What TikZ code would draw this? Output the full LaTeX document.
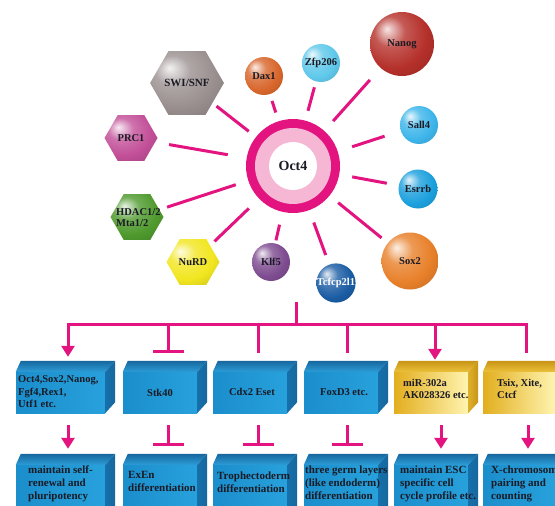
\documentclass[tikz,border=0pt]{standalone}
\usepackage{fontspec}
\setmainfont{Liberation Serif}
\usetikzlibrary{shapes.geometric,arrows.meta,calc}
\definecolor{mag}{HTML}{E3147F}
\definecolor{ringpink}{HTML}{F5B7D4}
\definecolor{nanogc}{HTML}{B5302A}
\definecolor{zfpc}{HTML}{5FC8EA}
\definecolor{daxc}{HTML}{D8662C}
\definecolor{sallc}{HTML}{3DB5EA}
\definecolor{esrrbc}{HTML}{1BA0DD}
\definecolor{soxc}{HTML}{E8802A}
\definecolor{tcfc}{HTML}{1A5CA3}
\definecolor{klfc}{HTML}{7E4C90}
\definecolor{swic}{HTML}{9A8F8F}
\definecolor{prcc}{HTML}{C24F98}
\definecolor{hdacc}{HTML}{4F9A2E}
\definecolor{nurdc}{HTML}{F2E620}
\definecolor{bluefl}{HTML}{1B8ECC}
\definecolor{bluefr}{HTML}{27A1DC}
\definecolor{bluetb}{HTML}{17679E}
\definecolor{bluetf}{HTML}{2C9CD6}
\definecolor{blueside}{HTML}{1670AB}
\definecolor{yelfl}{HTML}{E2AE1E}
\definecolor{yelfr}{HTML}{FFF4B0}
\definecolor{yeltb}{HTML}{C99415}
\definecolor{yeltf}{HTML}{EBC03A}
\definecolor{yelside}{HTML}{DDB02C}
\definecolor{txt}{HTML}{1A1A24}
\colorlet{ballc}{gray}
\pgfdeclareradialshading[ballc]{satball}{\pgfqpoint{-12bp}{12bp}}{%
  color(0bp)=(ballc!12!white);
  color(12bp)=(ballc!80!white);
  color(26bp)=(ballc);
  color(42bp)=(ballc!82!black);
  color(62bp)=(ballc!68!black)}
\newcommand\boxfaces[5]{%
  \shade[top color=#2, bottom color=#3] (#1.north west) -- ++(5,-11) -- ($(#1.north east)+(10,-11)$) -- (#1.north east) -- cycle;
  \shade[left color=#4, right color=#5] (#1.north east) -- ++(10,-11) -- ($(#1.south east)+(10,-11)$) -- (#1.south east) -- cycle;}
\tikzset{
  sat/.style={circle, inner sep=0pt, shading=satball, /utils/exec={\colorlet{ballc}{#1}},
    font=\fontsize{10.5}{11}\selectfont\bfseries, text=txt},
  hexa/.style={regular polygon, regular polygon sides=6, minimum size=53pt, inner sep=0pt,
    shading=satball, /utils/exec={\colorlet{ballc}{#1}},
    font=\fontsize{10.5}{11}\selectfont\bfseries, text=txt},
  spoke/.style={draw=mag, line width=3pt},
  link/.style={draw=mag, line width=3pt},
  arr/.style={-{Triangle[width=13pt,length=11pt]}},
  tbar/.style={-{Bar[width=31pt]}},
  bluebox/.style={rectangle, inner sep=0pt, minimum height=41pt, left color=bluefl, right color=bluefr},
  yelbox/.style={rectangle, inner sep=0pt, minimum height=41pt, left color=yelfl, right color=yelfr},
  lowbox/.style={rectangle, inner sep=0pt, minimum height=55pt, left color=bluefl, right color=bluefr},
  uptext/.style={inner sep=0pt, align=left, text=txt, font=\fontsize{10.5}{12.4}\selectfont\bfseries},
  lowtext/.style={inner sep=0pt, align=left, text=txt, font=\fontsize{11}{13}\selectfont\bfseries}
}
\begin{document}
\begin{tikzpicture}[x=1pt,y=-1pt]
\useasboundingbox (0,0) rectangle (555,506);
\clip (0,0) rectangle (555,506);
\fill[white] (0,0) rectangle (555,506);

% central ring
\node[circle, fill=mag, minimum size=94pt, inner sep=0pt,
  path picture={\fill[ringpink] (path picture bounding box.center) circle (38pt);
                \fill[white] (path picture bounding box.center) circle (24pt);},
  font=\fontsize{14}{15}\selectfont\bfseries, text=txt] (oct) at (293,166) {Oct4};

% satellites
\node[sat=nanogc, minimum size=64pt] (nanog) at (402,44) {Nanog};
\node[sat=zfpc, minimum size=38pt] (zfp) at (321,63) {Zfp206};
\node[sat=daxc, minimum size=38pt] (dax) at (264,76) {Dax1};
\node[sat=sallc, minimum size=38pt] (sall) at (419,125) {Sall4};
\node[sat=esrrbc, minimum size=39pt] (esrrb) at (418,189) {Esrrb};
\node[sat=soxc, minimum size=57pt] (sox) at (410,261) {Sox2};
\node[sat=tcfc, minimum size=39pt, text=white] (tcf) at (336,283) {Tcfcp2l1};
\node[sat=klfc, minimum size=38pt] (klf) at (271,262) {Klf5};
\node[hexa=swic, font=\fontsize{11}{12}\selectfont\bfseries] (swi) at (187,83) {SWI/SNF};
\node[hexa=prcc] (prc) at (131,138) {PRC1};
\node[hexa=hdacc] (hdac) at (137,217) {};
\node[anchor=west, inner sep=0pt, align=left, text=txt, font=\fontsize{10.5}{11}\selectfont\bfseries] (hdactext) at (116,217.5) {HDAC1/2\\Mta1/2};
\node[hexa=nurdc] (nurd) at (193,262) {NuRD};

% spokes
\draw[spoke, shorten <=9pt, shorten >=5pt] (oct) -- (swi);
\draw[spoke, shorten <=9pt, shorten >=7pt] (oct) -- (dax);
\draw[spoke, shorten <=10pt, shorten >=6pt] (oct) -- (zfp);
\draw[spoke, shorten <=13pt, shorten >=16pt] (oct) -- (nanog);
\draw[spoke, shorten <=15pt, shorten >=17pt] (oct) -- (sall);
\draw[spoke, shorten <=13pt, shorten >=12pt] (oct) -- (esrrb);
\draw[spoke, shorten <=11pt, shorten >=8pt] (oct) -- (sox);
\draw[spoke, shorten <=13pt, shorten >=10pt] (oct) -- (tcf);
\draw[spoke, shorten <=13pt, shorten >=3pt] (oct) -- (klf);
\draw[spoke, shorten <=14pt, shorten >=6pt] (oct) -- (nurd);
\draw[spoke, shorten <=13pt, shorten >=8pt] (oct) -- (hdac);
\draw[spoke, shorten <=19pt, shorten >=14pt] (oct) -- (prc);

% upper boxes
\node[bluebox, minimum width=89pt] (b1) at (60.5,392.5) {};
\node[bluebox, minimum width=74pt] (b2) at (160,392.5) {};
\node[bluebox, minimum width=74pt] (b3) at (250,392.5) {};
\node[bluebox, minimum width=74pt] (b4) at (341,392.5) {};
\node[yelbox, minimum width=74pt] (b5) at (431,392.5) {};
\node[yelbox, minimum width=72pt] (b6) at (519,392.5) {};
\foreach \b in {b1,b2,b3,b4}{\boxfaces{\b}{bluetb}{bluetf}{blueside}{bluetb}}
\foreach \b in {b5,b6}{\boxfaces{\b}{yeltb}{yeltf}{yelside}{yeltb}}

% lower boxes
\node[lowbox, minimum width=89pt] (c1) at (60.5,492.5) {};
\node[lowbox, minimum width=74pt] (c2) at (160,492.5) {};
\node[lowbox, minimum width=74pt] (c3) at (250,492.5) {};
\node[lowbox, minimum width=74pt] (c4) at (341,492.5) {};
\node[lowbox, minimum width=74pt] (c5) at (431,492.5) {};
\node[lowbox, minimum width=72pt] (c6) at (519,492.5) {};
\foreach \b in {c1,c2,c3,c4,c5,c6}{\boxfaces{\b}{bluetb}{bluetf}{blueside}{bluetb}}

% box texts
\node[uptext, anchor=north west] (t1) at (18,375.8) {Oct4,Sox2,Nanog,\\Fgf4,Rex1,\\Utf1 etc.};
\node[uptext] (t2) at (160,393) {Stk40};
\node[uptext] (t3) at (252,392) {Cdx2 Eset};
\node[uptext] (t4) at (344,392) {FoxD3 etc.};
\node[uptext, anchor=north west] (t5) at (403,378.8) {miR-302a\\AK028326 etc.};
\node[uptext, anchor=north west] (t6) at (497,378.8) {Tsix, Xite,\\Ctcf};
\node[lowtext, anchor=north west] (u1) at (28,465.5) {maintain self-\\renewal and\\pluripotency};
\node[lowtext, anchor=north west] (u2) at (128,471.5) {ExEn\\differentiation};
\node[lowtext, anchor=north west] (u3) at (217,471.5) {Trophectoderm\\differentiation};
\node[lowtext, anchor=north west] (u4) at (305,465.5) {three germ layers\\(like endoderm)\\differentiation};
\node[lowtext, anchor=north west] (u5) at (400,465.5) {maintain ESC\\specific cell\\cycle profile etc.};
\node[lowtext, anchor=north west] (u6) at (491,465.5) {X-chromosome\\pairing and\\counting};

% tree connectors
\coordinate (top) at (296,302);
\coordinate (hub) at (296,324);
\coordinate (j1) at (68,324);
\coordinate (j2) at (168,324);
\coordinate (j3) at (258,324);
\coordinate (j4) at (347,324);
\coordinate (j5) at (435,324);
\coordinate (j6) at (526,324);
\draw[link] (top) -- (hub);
\draw[link, line cap=rect] (j1) -- (j6);
\draw[link, arr, shorten >=15pt] (j1) -- (j1 |- b1.north);
\draw[link, tbar, shorten >=19pt] (j2) -- (j2 |- b2.north);
\draw[link, shorten >=19pt] (j3) -- (j3 |- b3.north);
\draw[link, shorten >=19pt] (j4) -- (j4 |- b4.north);
\draw[link, arr, shorten >=12pt] (j5) -- (j5 |- b5.north);
\draw[link, shorten >=19pt] (j6) -- (j6 |- b6.north);

% lower connectors
\coordinate (k1) at (68,413);
\coordinate (k2) at (168,413);
\coordinate (k3) at (258,413);
\coordinate (k4) at (347,413);
\coordinate (k5) at (441,413);
\coordinate (k6) at (528,413);
\draw[link, arr, shorten <=12pt, shorten >=16pt] (k1) -- (k1 |- c1.north);
\draw[link, tbar, shorten <=12pt, shorten >=19pt] (k2) -- (k2 |- c2.north);
\draw[link, tbar, shorten <=12pt, shorten >=19pt] (k3) -- (k3 |- c3.north);
\draw[link, tbar, shorten <=12pt, shorten >=19pt] (k4) -- (k4 |- c4.north);
\draw[link, arr, shorten <=12pt, shorten >=16pt] (k5) -- (k5 |- c5.north);
\draw[link, arr, shorten <=12pt, shorten >=16pt] (k6) -- (k6 |- c6.north);
\end{tikzpicture}
\end{document}
